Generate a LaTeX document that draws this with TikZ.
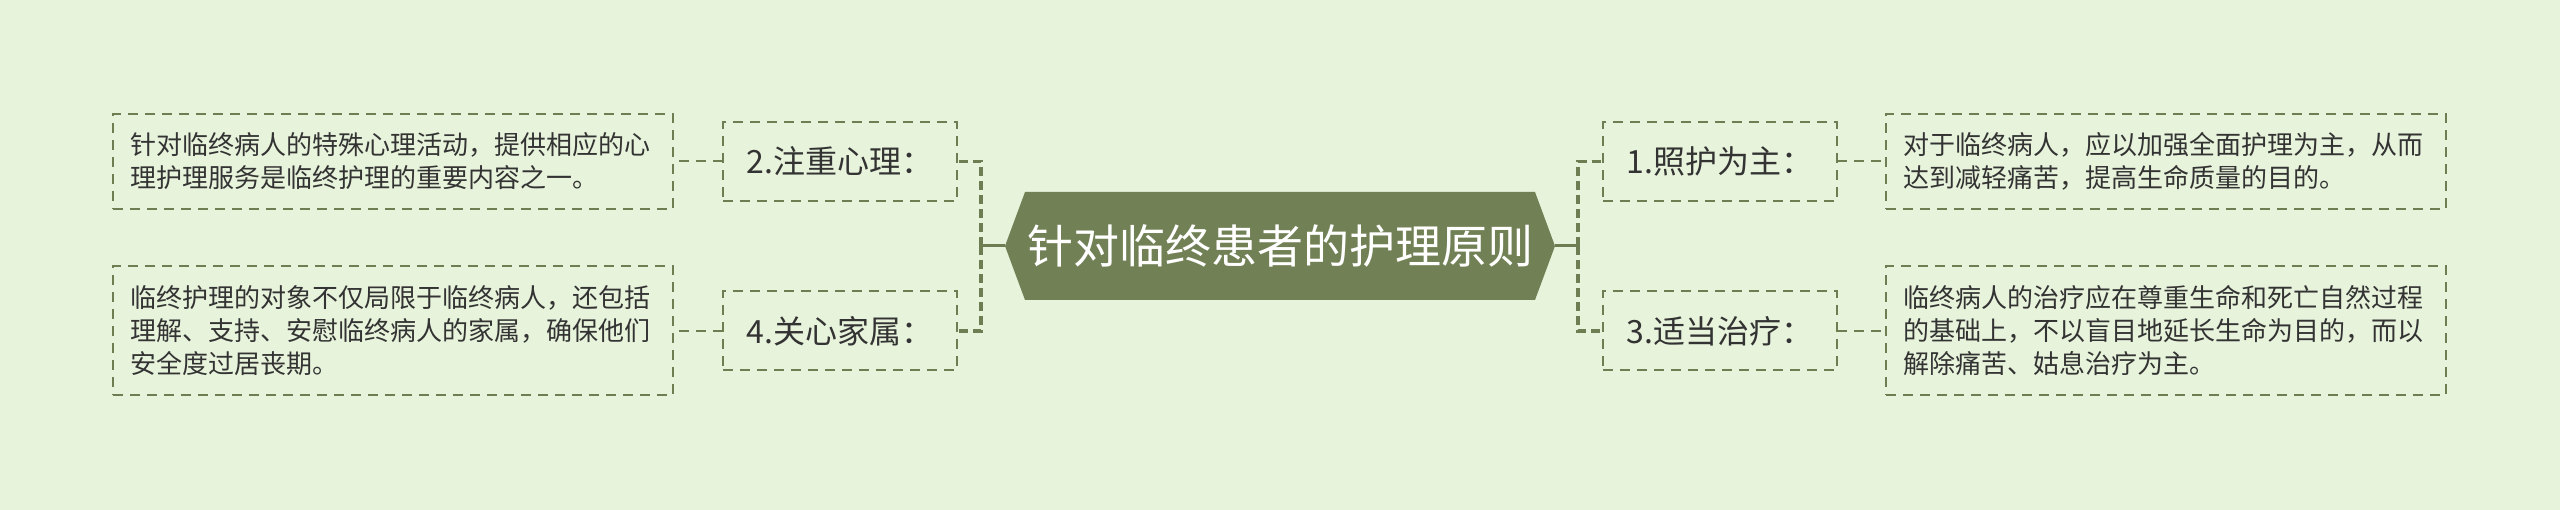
\documentclass[tikz,border=0pt]{standalone}
\usepackage{fontspec}
\setmainfont{Noto Sans CJK SC}
\definecolor{bgcol}{HTML}{E7F3DB}
\definecolor{rootcol}{HTML}{728155}
\definecolor{linecol}{HTML}{6E7D52}
\definecolor{txtcol}{HTML}{333333}
\tikzset{
  roottext/.style={text=white,font=\fontsize{46}{54}\selectfont,minimum width=550pt,inner sep=0pt,outer sep=0pt},
  branch/.style={draw=linecol,line width=2pt,dash pattern=on 10pt off 7pt,text=txtcol,
    font=\fontsize{32}{36}\selectfont,minimum width=234pt,minimum height=79pt,inner sep=0pt,outer sep=0pt},
  leaf/.style={draw=linecol,line width=2pt,dash pattern=on 10pt off 7pt,text=txtcol,
    font=\fontsize{26}{33}\selectfont,text width=526pt,align=left,minimum width=560pt,
    inner xsep=17pt,inner ysep=0pt,outer sep=0pt},
  trunk/.style={draw=linecol,line width=3pt},
  trunkdash/.style={draw=linecol,line width=3.5pt,dash pattern=on 9pt off 5pt},
  twig/.style={draw=linecol,line width=2pt,dash pattern=on 10pt off 7pt}
}
\begin{document}
\begin{tikzpicture}[x=1pt,y=-1pt]
\fill[bgcol] (0,0) rectangle (2560,510);
\useasboundingbox (0,0) rectangle (2560,510);
% centre
\fill[rootcol] (1005,246)--(1025,192)--(1535,192)--(1555,246)--(1535,300)--(1025,300)--cycle;
\node[roottext] (root) at (1280,246) {针对临终患者的护理原则};
% branches
\node[branch] (b1) at (1720,161.5) {1.照护为主：};
\node[branch] (b3) at (1720,331) {3.适当治疗：};
\node[branch] (b2) at (840,161.5) {2.注重心理：};
\node[branch] (b4) at (840,331) {4.关心家属：};
% leaves
\node[leaf,minimum height=95pt] (l1) at (2166,161.5) {对于临终病人，应以加强全面护理为主，从而\\达到减轻痛苦，提高生命质量的目的。};
\node[leaf,minimum height=129pt] (l3) at (2166,330.5) {临终病人的治疗应在尊重生命和死亡自然过程\\的基础上，不以盲目地延长生命为目的，而以\\解除痛苦、姑息治疗为主。};
\node[leaf,minimum height=95pt] (l2) at (393,161.5) {针对临终病人的特殊心理活动，提供相应的心\\理护理服务是临终护理的重要内容之一。};
\node[leaf,minimum height=129pt] (l4) at (393,330.5) {临终护理的对象不仅局限于临终病人，还包括\\理解、支持、安慰临终病人的家属，确保他们\\安全度过居丧期。};
% connectors
\draw[trunk] (root.east) -- ++(23,0) coordinate (rj);
\draw[trunk] (root.west) -- ++(-24,0) coordinate (lj);
\draw[trunkdash] (rj) |- (b1.west);
\draw[trunkdash] (rj) |- (b3.west);
\draw[trunkdash] (lj) |- (b2.east);
\draw[trunkdash] (lj) |- (b4.east);
\draw[twig] (b1.east) -- (l1.west);
\draw[twig] (b3.east) -- (b3.east -| l3.west);
\draw[twig] (b2.west) -- (l2.east);
\draw[twig] (b4.west) -- (b4.west -| l4.east);
\end{tikzpicture}
\end{document}
